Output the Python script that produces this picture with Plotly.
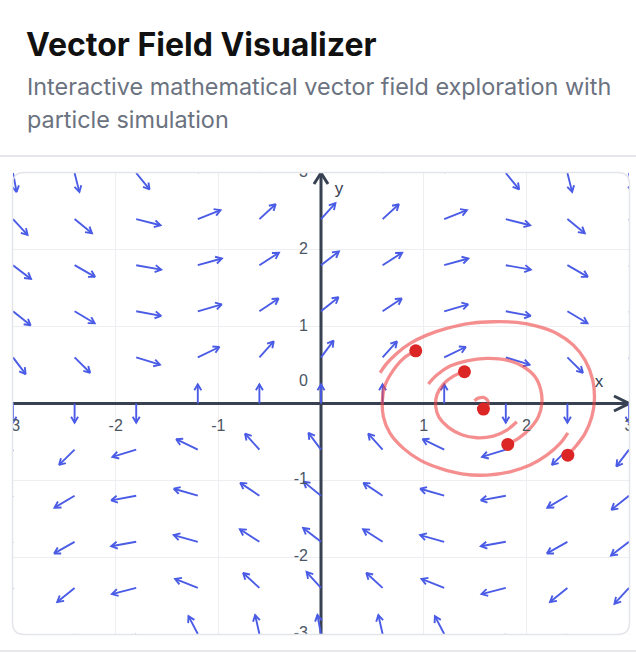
import math
import plotly.graph_objects as go

# ---------------- data ----------------
grid_x = [-3.0, -2.4, -1.8, -1.2, -0.6, 0.0, 0.6, 1.2, 1.8, 2.4, 3.0]
grid_y = [-3.0, -2.4, -1.8, -1.2, -0.6, 0.0, 0.6, 1.2, 1.8, 2.4, 3.0]
# horizontal field component per row (depends on y) and vertical per column (depends on x)
vx_by_row = [-0.14, -0.68, -0.97, -0.93, -0.56, 0.0, 0.56, 0.93, 0.97, 0.68, 0.14]
vy_by_col = [-0.99, -0.74, -0.23, 0.36, 0.83, 1.0, 0.83, 0.36, -0.23, -0.74, -0.99]

trail_a_x = [0.576, 0.641, 0.738, 0.868, 1.030, 1.225, 1.452, 1.679, 1.907, 2.102, 2.297, 2.458, 2.572, 2.647, 2.663, 2.638, 2.572, 2.491, 2.404]
trail_a_y = [0.400, 0.522, 0.652, 0.782, 0.890, 0.977, 1.043, 1.064, 1.055, 1.007, 0.912, 0.760, 0.565, 0.305, 0.044, -0.173, -0.389, -0.541, -0.672]

trail_b_x = [1.046, 1.128, 1.257, 1.420, 1.615, 1.810, 1.971, 2.085, 2.141, 2.151, 2.117, 2.037, 1.923, 1.819]
trail_b_y = [0.253, 0.370, 0.487, 0.556, 0.587, 0.565, 0.478, 0.348, 0.174, 0.001, -0.173, -0.324, -0.454, -0.532]

trail_c_x = [2.404, 2.329, 2.199, 2.037, 1.842, 1.615, 1.387, 1.160, 0.965, 0.803, 0.673, 0.608, 0.598, 0.624, 0.705, 0.803, 0.923]
trail_c_y = [-0.381, -0.519, -0.672, -0.802, -0.889, -0.932, -0.919, -0.845, -0.737, -0.584, -0.389, -0.173, 0.044, 0.239, 0.435, 0.587, 0.686]

trail_d_x = [1.907, 1.810, 1.679, 1.517, 1.371, 1.241, 1.150, 1.118, 1.128, 1.192, 1.290, 1.397]
trail_d_y = [-0.238, -0.346, -0.424, -0.446, -0.407, -0.311, -0.181, -0.043, 0.109, 0.253, 0.357, 0.413]

trail_e_x = [1.494, 1.533, 1.582, 1.621, 1.630, 1.582]
trail_e_y = [0.035, 0.070, 0.079, 0.044, -0.012, -0.073]

particles_x = [2.404, 1.819, 0.923, 1.397, 1.582]
particles_y = [-0.672, -0.532, 0.686, 0.413, -0.073]

x_tick_vals = [-3, -2, -1, 1, 2, 3]
y_tick_vals = [-3, -2, -1, 0, 1, 2, 3]

# ---------------- layout constants ----------------
W, H = 636, 662
PX0, PX1 = 13, 629
PY0, PY1 = 173, 634
XR = [-3, 3]
YR = [-3, 3]
SX = (PX1 - PX0) / (XR[1] - XR[0])
SY = (PY1 - PY0) / (YR[1] - YR[0])

ARROW_COLOR = "#4a5be6"
AXIS_COLOR = "#374151"
TRAIL_COLOR = "rgba(239,68,68,0.6)"
PARTICLE_COLOR = "#dc2626"


def px(xp):
    return xp / W


def py(yp):
    return 1 - yp / H


fig = go.Figure()

# vector field arrows
L = 0.25
HEAD = 7
ANG = math.pi / 6
ax, ay = [], []
for j, y in enumerate(grid_y):
    for i, x in enumerate(grid_x):
        vx = vx_by_row[j]
        vy = vy_by_col[i]
        m = math.hypot(vx, vy)
        if m == 0:
            continue
        ux, uy = vx / m, vy / m
        tx, ty = x + L * ux, y + L * uy
        a = math.atan2(uy * SY, ux * SX)
        ax += [x, tx, None]
        ay += [y, ty, None]
        b1x = tx - HEAD * math.cos(a + ANG) / SX
        b1y = ty - HEAD * math.sin(a + ANG) / SY
        b2x = tx - HEAD * math.cos(a - ANG) / SX
        b2y = ty - HEAD * math.sin(a - ANG) / SY
        ax += [b1x, tx, b2x, None]
        ay += [b1y, ty, b2y, None]

# axes with arrowheads
axx = [XR[0], XR[1], None, 0, 0, None,
       XR[1] - 15 / SX, XR[1], XR[1] - 15 / SX, None,
       -7 / SX, 0, 7 / SX]
axy = [0, 0, None, YR[0], YR[1], None,
       7.5 / SY, 0, -7.5 / SY, None,
       YR[1] - 11 / SY, YR[1], YR[1] - 11 / SY]
fig.add_trace(go.Scatter(x=axx, y=axy, mode="lines",
                         line=dict(color=AXIS_COLOR, width=3),
                         hoverinfo="skip", showlegend=False))

fig.add_trace(go.Scatter(x=ax, y=ay, mode="lines",
                         line=dict(color=ARROW_COLOR, width=1.9),
                         hoverinfo="skip", showlegend=False))

for tx_, ty_ in [(trail_a_x, trail_a_y), (trail_b_x, trail_b_y), (trail_c_x, trail_c_y),
                 (trail_d_x, trail_d_y), (trail_e_x, trail_e_y)]:
    fig.add_trace(go.Scatter(x=tx_, y=ty_, mode="lines",
                             line=dict(color=TRAIL_COLOR, width=3.3, shape="spline"),
                             hoverinfo="skip", showlegend=False))

fig.add_trace(go.Scatter(x=particles_x, y=particles_y, mode="markers",
                         marker=dict(color=PARTICLE_COLOR, size=13),
                         hoverinfo="skip", showlegend=False))

# tick labels near the axes (clipped to plot area)
lbl_font = dict(family="Liberation Sans, Arial, sans-serif", size=16, color="#4b5563")
fig.add_trace(go.Scatter(x=x_tick_vals, y=[-23 / SY] * len(x_tick_vals),
                         mode="text", text=[str(v) for v in x_tick_vals],
                         textposition="middle center", textfont=lbl_font,
                         cliponaxis=True, hoverinfo="skip", showlegend=False))
fig.add_trace(go.Scatter(x=[-13 / SX] * len(y_tick_vals),
                         y=[(22 / SY if v == 0 else v) for v in y_tick_vals],
                         mode="text", text=[str(v) for v in y_tick_vals],
                         textposition="middle left", textfont=lbl_font,
                         cliponaxis=True, hoverinfo="skip", showlegend=False))
# axis names
fig.add_trace(go.Scatter(x=[XR[1] - 30 / SX, 18 / SX], y=[21 / SY, YR[1] - 17 / SY],
                         mode="text", text=["x", "y"], textposition="middle center",
                         textfont=dict(family="Liberation Sans, Arial, sans-serif", size=17, color=AXIS_COLOR),
                         cliponaxis=True, hoverinfo="skip", showlegend=False))

# card border (rounded rectangle) in paper coordinates
r = 12
cx0, cx1, cy0, cy1 = 12.5, 629.5, 172.5, 634.5
card_path = (
    f"M {px(cx0 + r)},{py(cy0)} L {px(cx1 - r)},{py(cy0)} "
    f"Q {px(cx1)},{py(cy0)} {px(cx1)},{py(cy0 + r)} "
    f"L {px(cx1)},{py(cy1 - r)} Q {px(cx1)},{py(cy1)} {px(cx1 - r)},{py(cy1)} "
    f"L {px(cx0 + r)},{py(cy1)} Q {px(cx0)},{py(cy1)} {px(cx0)},{py(cy1 - r)} "
    f"L {px(cx0)},{py(cy0 + r)} Q {px(cx0)},{py(cy0)} {px(cx0 + r)},{py(cy0)} Z"
)

shapes = [
    dict(type="path", xref="paper", yref="paper", path=card_path,
         line=dict(color="#e3e5e9", width=1.5), layer="above"),
    dict(type="line", xref="paper", yref="paper", x0=0, x1=1, y0=py(156), y1=py(156),
         line=dict(color="#e5e7eb", width=2)),
    dict(type="line", xref="paper", yref="paper", x0=0, x1=1, y0=py(651), y1=py(651),
         line=dict(color="#e5e7eb", width=2)),
]

annotations = [
    dict(text="<b>Vector Field Visualizer</b>", x=px(24), y=py(44), xref="paper", yref="paper",
         xanchor="left", yanchor="middle", showarrow=False,
         font=dict(family="Inter, Roboto, sans-serif", size=32, color="#111111")),
    dict(text="Interactive mathematical vector field exploration with", x=px(25), y=py(87),
         xref="paper", yref="paper", xanchor="left", yanchor="middle", showarrow=False,
         font=dict(family="Inter, Roboto, sans-serif", size=23.4, color="#6b7280")),
    dict(text="particle simulation", x=px(25), y=py(119),
         xref="paper", yref="paper", xanchor="left", yanchor="middle", showarrow=False,
         font=dict(family="Inter, Roboto, sans-serif", size=23.4, color="#6b7280")),
]

fig.update_layout(
    width=W, height=H, autosize=False,
    margin=dict(l=0, r=0, t=0, b=0),
    paper_bgcolor="white", plot_bgcolor="white",
    xaxis=dict(domain=[PX0 / W, PX1 / W], range=XR, tickvals=[-2, -1, 0, 1, 2],
               showticklabels=False, ticks="", showgrid=True, gridcolor="#eceef2", gridwidth=1,
               zeroline=False, showline=False, fixedrange=True),
    yaxis=dict(domain=[1 - PY1 / H, 1 - PY0 / H], range=YR, tickvals=[-2, -1, 0, 1, 2],
               showticklabels=False, ticks="", showgrid=True, gridcolor="#eceef2", gridwidth=1,
               zeroline=False, showline=False, fixedrange=True),
    shapes=shapes,
    annotations=annotations,
    showlegend=False,
)

fig.write_html("out.html", config={"displayModeBar": False},
               post_script="document.body.style.margin='0';document.body.style.overflow='hidden';")
